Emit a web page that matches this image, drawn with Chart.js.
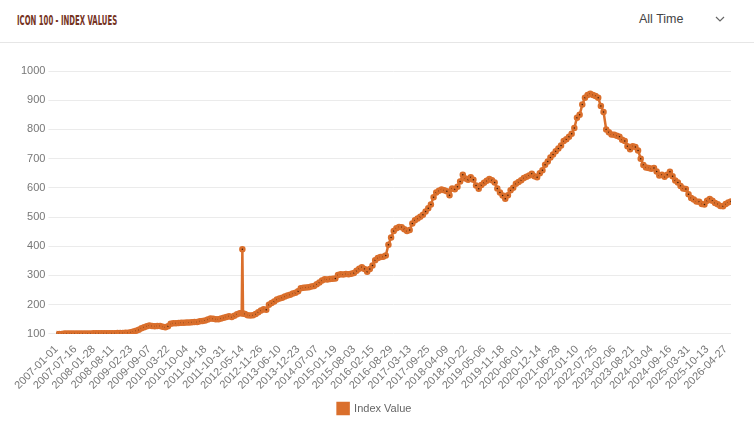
<!DOCTYPE html>
<html>
<head>
<meta charset="utf-8">
<script src="https://cdn.jsdelivr.net/npm/chart.js@4.4.1/dist/chart.umd.min.js"></script>
<style>
  html, body { margin: 0; padding: 0; background: #fff; width: 754px; height: 437px; overflow: hidden; }
  #header { position: absolute; left: 0; top: 0; width: 754px; height: 42px; border-bottom: 1px solid #e6e6e6; }
  #title { position: absolute; left: 17px; top: 12px; font-family: "Liberation Sans Narrow", "DejaVu Sans Condensed", sans-serif; font-weight: bold; font-size: 14px; color: #76341f; transform: scaleX(0.55); transform-origin: 0 0; white-space: nowrap; }
  #range { position: absolute; left: 639px; top: 12px; font-family: "Liberation Sans", Arial, sans-serif; font-size: 12.5px; color: #444; }
  #chev { position: absolute; left: 714px; top: 14px; }
  #wrap { position: absolute; left: 0; top: 43px; width: 754px; height: 394px; }
</style>
</head>
<body>
<div id="header">
  <div id="title">ICON 100 - INDEX VALUES</div>
  <div id="range">All Time</div>
  <svg id="chev" width="12" height="10" viewBox="0 0 12 10"><polyline points="2,3 6,7 10,3" fill="none" stroke="#666" stroke-width="1.2"/></svg>
</div>
<div id="wrap"><canvas id="c"></canvas></div>
<script>
// Index value every 4 weeks (28 days) starting 2007-01-01
const startDate = '2007-01-01';
const stepDays = 28;
const tickStepDays = 196;
const seriesName = 'Index Value';
const indexValues = [
  100,100,100,101,101,101,101,101,101,101,
  101,101,101,101,102,102,102,102,102,102,
  102,102,102,103,103,103,104,104,106,108,
  111,114,119,123,126,129,127,126,127,127,
  124,123,126,135,136,136,137,138,138,139,
  139,140,141,141,143,144,146,149,153,152,
  150,150,153,155,158,160,158,162,167,171,
  390,168,164,163,164,168,174,180,184,183,
  200,206,211,218,221,224,228,231,234,238,
  241,246,256,258,259,260,262,264,270,276,
  283,287,286,288,289,290,302,304,303,305,
  304,306,308,316,323,328,322,313,322,334,
  352,360,363,364,368,405,430,452,462,466,
  465,458,452,456,478,489,495,501,508,519,
  530,543,568,584,590,594,592,588,575,598,
  595,604,622,645,632,628,636,628,608,597,
  610,617,624,630,626,618,598,584,574,563,
  575,592,600,614,620,626,634,638,642,648,
  640,636,650,660,679,690,704,714,725,735,
  745,760,766,775,785,805,840,850,885,908,
  918,922,918,914,908,880,860,800,790,783,
  782,778,775,765,760,742,732,742,740,728,
  700,678,670,668,665,668,656,642,645,638,
  645,655,640,625,618,606,598,596,578,565,
  560,553,552,545,543,556,562,556,548,544,
  538,537,545,550,553
];
// weekly readings right beside the one-week spike (day offsets from start)
const spikeNeighbourDays = [1953, 1967];
const spikeNeighbourValues = [171, 170];
const yTicks = [100,200,300,400,500,600,700,800,900,1000];
const xTickLabels = [
  '2007-01-01','2007-07-16','2008-01-28','2008-08-11','2009-02-23','2009-09-07',
  '2010-03-22','2010-10-04','2011-04-18','2011-10-31','2012-05-14','2012-11-26',
  '2013-06-10','2013-12-23','2014-07-07','2015-01-19','2015-08-03','2016-02-15',
  '2016-08-29','2017-03-13','2017-09-25','2018-04-09','2018-10-22','2019-05-06',
  '2019-11-18','2020-06-01','2020-12-14','2021-06-28','2022-01-10','2022-07-25',
  '2023-02-06','2023-08-21','2024-03-04','2024-09-16','2025-03-31','2025-10-13',
  '2026-04-27'
];

const points = indexValues.map((v, i) => ({ x: i * stepDays, y: v }));
spikeNeighbourDays.forEach((d, i) => points.push({ x: d, y: spikeNeighbourValues[i] }));
points.sort((a, b) => a.x - b.x);
const xMax = (indexValues.length - 1) * stepDays;

const orange = '#da6f2c';
const dark = '#3a1c0c';
Chart.defaults.font.family = '"Liberation Sans", Arial, Helvetica, sans-serif';
Chart.defaults.font.size = 11;
Chart.defaults.color = '#666';

new Chart(document.getElementById('c'), {
  type: 'line',
  data: {
    datasets: [{
      label: seriesName,
      data: points,
      borderColor: orange,
      backgroundColor: orange,
      borderWidth: 2.5,
      pointRadius: 2,
      pointBorderWidth: 2.5,
      pointBackgroundColor: dark,
      pointBorderColor: orange,
      tension: 0,
      fill: false
    }]
  },
  options: {
    responsive: true,
    maintainAspectRatio: false,
    animation: false,
    layout: { padding: { top: 28, left: 18, right: 23, bottom: 13 } },
    plugins: {
      legend: {
        position: 'bottom',
        labels: { boxWidth: 11, boxHeight: 11, color: '#666', font: { size: 11 } }
      },
      tooltip: { enabled: false }
    },
    scales: {
      x: {
        type: 'linear',
        min: 0,
        max: xMax,
        grid: { display: false },
        border: { display: false },
        afterBuildTicks: function(scale) {
          scale.ticks = xTickLabels.map((l, i) => ({ value: i * tickStepDays, label: l }));
        },
        ticks: {
          autoSkip: false,
          minRotation: 45,
          maxRotation: 45,
          padding: 1,
          color: '#777',
          callback: function(value, index) { return xTickLabels[index]; }
        }
      },
      y: {
        min: yTicks[0],
        max: yTicks[yTicks.length-1],
        border: { display: false },
        grid: { color: '#ebebeb', tickLength: 8 },
        afterBuildTicks: function(scale) { scale.ticks = yTicks.map(v => ({ value: v })); },
        ticks: { color: '#777', callback: function(value) { return String(value); } }
      }
    }
  }
});
</script>
</body>
</html>
